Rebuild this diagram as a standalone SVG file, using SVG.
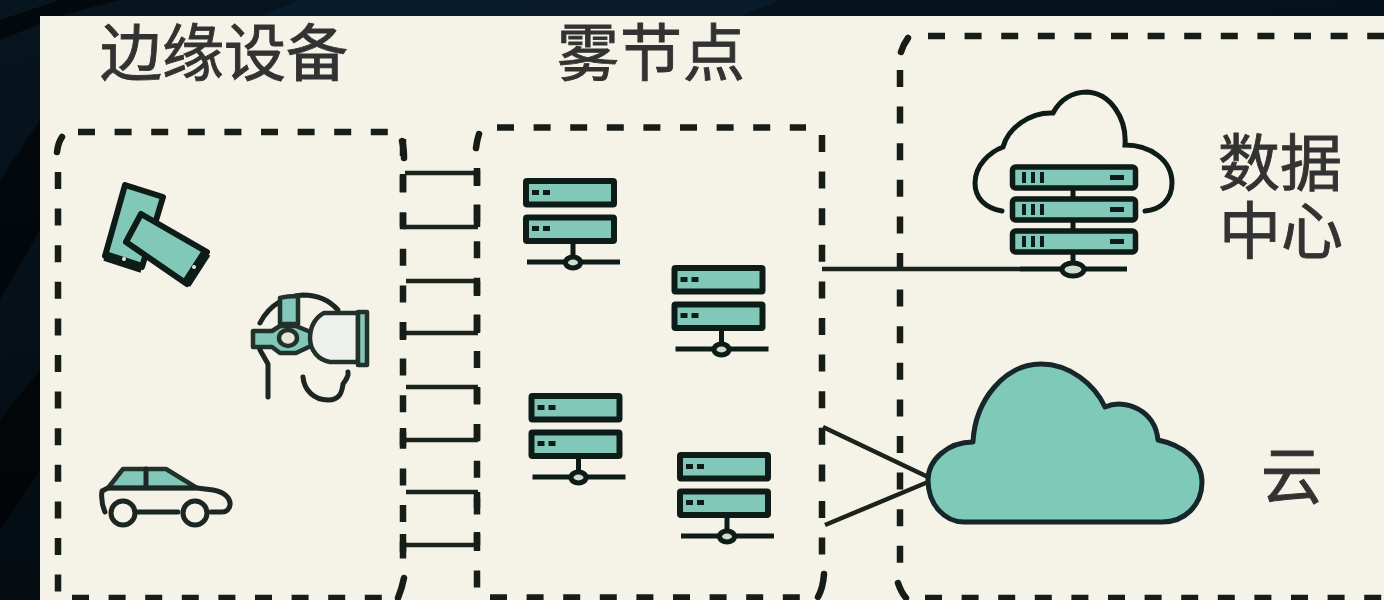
<svg xmlns="http://www.w3.org/2000/svg" width="1384" height="600" viewBox="0 0 1384 600">
<style>
.dash{fill:none;stroke:#191c19;stroke-width:6.500;stroke-dasharray:17 19.600;stroke-linecap:butt}
.corner{fill:none;stroke:#191c19;stroke-width:6.500;stroke-linecap:round}
.conn{fill:none;stroke:#1f211e;stroke-width:4.500}
.tick{fill:none;stroke:#191c19;stroke-width:6.500}
.ln{fill:none;stroke:#1a2623;stroke-width:5;stroke-linecap:round;stroke-linejoin:round}
.fillt{fill:#82c8b8;stroke:#101a18;stroke-width:6;stroke-linejoin:round}
.thin{fill:#82c8b8;stroke:#22302c;stroke-width:4.500;stroke-linejoin:round}
.lbl{font-family:"Noto Sans CJK SC","Noto Sans",sans-serif;fill:#333331;stroke:#333331;stroke-width:.9;font-size:62px}
</style>
<defs>
<filter id="soft" x="0" y="0" width="100%" height="100%"><feGaussianBlur stdDeviation="0.7"/></filter>
<linearGradient id="night" x1="0" y1="0" x2="0.3" y2="1"><stop offset="0" stop-color="#07151f"/><stop offset="1" stop-color="#040b11"/></linearGradient>
<g id="server">
<rect class="fillt" x="526" y="181" width="88" height="23.500" rx="1"/>
<rect class="fillt" x="526" y="217.500" width="88" height="23.500" rx="1"/>
<path d="M532 192.500h7M543 192.500h7M532 228.500h7M543 228.500h7" stroke="#101a18" stroke-width="5" fill="none"/>
<path d="M573 242V256M527 262H620" stroke="#101a18" stroke-width="5" fill="none"/>
<ellipse cx="573" cy="262.500" rx="7.500" ry="5.500" fill="#cfdcd0" stroke="#101a18" stroke-width="5"/>
</g>
<g id="dcbar">
<rect x="1012.500" y="167" width="123" height="21" rx="3" fill="#82c8b8" stroke="#101a18" stroke-width="5.500"/>
<path d="M1024 172v11M1033 172v11M1042 172v11" stroke="#101a18" stroke-width="4"/>
<path d="M1110 177.500h14" stroke="#101a18" stroke-width="5"/>
</g>
</defs>
<rect width="1384" height="600" fill="url(#night)"/>
<g fill="#000" opacity=".55">
<polygon points="60,0 120,0 60,16 0,40 0,20"/>
<polygon points="0,180 40,120 40,230 0,300"/>
<polygon points="0,420 40,370 40,470 0,530"/>
</g>
<polygon points="300,0 780,0 740,16 260,16" fill="#0c2236" opacity=".6"/>
<g filter="url(#soft)">
<rect x="40" y="16" width="1344" height="584" fill="#f5f2e8"/>
<g id="labels">
<text class="lbl" x="100" y="76" textLength="248">边缘设备</text>
<text class="lbl" x="557" y="76" textLength="188">雾节点</text>
<text class="lbl" x="1218" y="186" textLength="124">数据</text>
<text class="lbl" x="1219" y="254" textLength="124">中心</text>
<text class="lbl" x="1261" y="499">云</text>
</g>
<g id="boxes">
<g id="edge-box">
<path class="dash" d="M78 132H390M58 172V592M403 139V560M72 598H384"/>
<path class="corner" d="M62 137Q58 143 57 152M402 141Q404 148 404 158M404 578Q402 588 398 598"/>
</g>
<g id="fog-box">
<path class="dash" d="M497 127.500H806M477 168V588M822 135V556M490 597.500H801"/>
<path class="corner" d="M479 134Q477 140 476 148M824 574Q823 588 818 597"/>
</g>
<g id="cloud-box">
<path class="dash" d="M928 36H1384M900 70V565M925 598H1384"/>
<path class="corner" d="M908 38Q903 45 901 52M898 583Q901 592 906 598"/>
</g>
</g>
<g id="connectors">
<path class="conn" d="M405 173H478M403 227H478M406 281H478M401 333H478M406 387H478M401 440H478M406 492H478M401 545H478"/>
<path class="tick" d="M403 174V192M403 213V227M477 170V186M477 205V227M477 281V296M477 315V333M403 322V340M477 387V403M477 424V440M403 428V446M477 492V508M477 532V545M403 534V552"/>
<path class="conn" d="M822 269H1020M823 427L928 477M825 525L928 482"/>
</g>
<g id="node-phones">
<polygon class="fillt" points="125,185 163,197 142,267 105,256"/>
<path d="M105 256L142 268" stroke="#101a18" stroke-width="10"/>
<polygon class="fillt" points="141,214 207,252 187,284 126,242"/>
<path d="M206 253L186 284" stroke="#101a18" stroke-width="10"/>
<circle cx="124" cy="259" r="2" fill="#e8e6d8"/><circle cx="194" cy="267" r="2" fill="#e8e6d8"/>
</g>
<g id="node-headset">
<path class="ln" d="M260 323C270 303 288 296 303 295C318 295 330 301 338 310"/>
<path class="thin" d="M280 298C287 296 292 296 298 296L298 324L280 324Z"/>
<path class="thin" d="M253 331H272L280 326H296L313 333V345L296 353H280L272 347H253Z"/>
<path d="M324 313H358V362H330C318 360 310 350 310 338C310 326 316 317 324 313Z" fill="#eef0ec" stroke="#22302c" stroke-width="4.500"/>
<rect class="thin" x="358" y="312" width="9" height="53"/>
<ellipse cx="288" cy="338" rx="9" ry="8" fill="#e8e6d8" stroke="#22302c" stroke-width="4.500"/>
<path class="ln" d="M260 350L268 364V397M303 377C304 390 314 400 328 400C340 400 342 392 343 384C346 380 349 376 348 372"/>
</g>
<g id="node-car">
<path class="thin" d="M108 488L123 469H166L197 488Z"/>
<path class="ln" d="M146 469V488M105 512C102 505 101 498 102 491L108 488H197L213 490C224 492 231 498 230 505C229 510 226 512 222 512H211M138 512H178"/>
<circle class="ln" cx="123" cy="513" r="12" style="fill:#f5f2e8"/>
<circle class="ln" cx="195" cy="513" r="12" style="fill:#f5f2e8"/>
</g>
<g id="node-fog1"><use href="#server"/></g>
<g id="node-fog2"><use href="#server" x="148.500" y="87"/></g>
<g id="node-fog3"><use href="#server" x="5.500" y="215"/></g>
<g id="node-fog4"><use href="#server" x="154" y="274"/></g>
<g id="node-datacenter">
<path d="M1002 211C985 208 975 198 975 183C975 165 990 152 1003 147C1008 128 1030 112 1053 113C1060 100 1072 92 1087 92C1110 93 1127 118 1125 145C1150 145 1172 160 1172 183C1172 200 1160 210 1145 211" fill="none" stroke="#101a18" stroke-width="5" stroke-linecap="round"/>
<path d="M1073 188V198M1073 220V231M1073 253V262M1020 269H1127" stroke="#101a18" stroke-width="5" fill="none"/>
<use href="#dcbar"/><use href="#dcbar" y="32"/><use href="#dcbar" y="64"/>
<ellipse cx="1073" cy="269.500" rx="11" ry="6.500" fill="#cfdcd0" stroke="#101a18" stroke-width="5"/>
</g>
<g id="node-cloud">
<path d="M928 480C928 460 948 442 973 442C975 400 1005 364 1041 364C1070 364 1095 385 1105 407C1125 398 1155 410 1158 440C1182 445 1202 460 1202 482C1202 505 1185 522 1162 522H964C945 522 928 505 928 480Z" fill="#7fc9b9" stroke="#14282a" stroke-width="5" stroke-linejoin="round"/>
</g>
</g>
</svg>
